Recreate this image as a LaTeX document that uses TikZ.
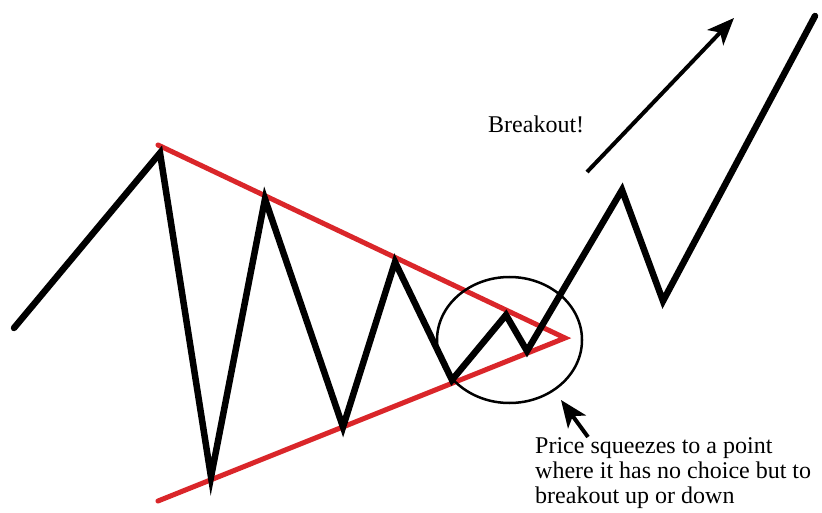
\documentclass[tikz,border=0pt]{standalone}
\usepackage{fontspec}
\setmainfont{Liberation Serif}
\usetikzlibrary{arrows.meta,shapes.geometric}
\definecolor{trendred}{RGB}{218,38,42}
\tikzset{
  price/.style={line width=6.5pt, black, line join=miter, line cap=round},
  trend/.style={line width=5pt, trendred, line cap=round},
  squeeze/.style={line width=2.5pt, black},
  pointer/.style={line width=4pt, black, -{Stealth[length=27pt,width=22pt,inset=7pt]}},
  label/.style={font=\fontsize{24}{25}\selectfont, inner sep=0pt, anchor=base west, align=left}
}
\begin{document}
\begin{tikzpicture}[x=1pt,y=-1pt]
\fill[white] (0,0) rectangle (822,513);
\useasboundingbox (0,0) rectangle (822,513);
% price points
\coordinate (s) at (14,328);
\coordinate (p1) at (160,153);
\coordinate (t1) at (211,477);
\coordinate (p2) at (265,199);
\coordinate (t2) at (343,427);
\coordinate (p3) at (395,262);
\coordinate (t3) at (452,380);
\coordinate (p4) at (506,315);
\coordinate (t4) at (527,351);
\coordinate (p5) at (622,190);
\coordinate (t5) at (663,301);
\coordinate (e) at (815,16);
% trend lines
\coordinate (ua) at (158,145);
\coordinate (la) at (158,501);
\coordinate (apex) at (565,338);
\draw[trend] (ua) -- (apex) -- (la);
\draw[price] (s) -- (p1) -- (t1) -- (p2) -- (t2) -- (p3) -- (t3) -- (p4) -- (t4) -- (p5) -- (t5) -- (e);
% circle
\node[squeeze, draw, ellipse, minimum width=145pt, minimum height=126pt, inner sep=0pt] (ring) at (509.5,340) {};
% breakout arrow
\coordinate (ba) at (587,172);
\coordinate (bb) at (734,18);
\draw[pointer] (ba) -- (bb);
\node[label] (bo) at (488,133) {Breakout!};
% squeeze arrow
\coordinate (sa) at (588,437);
\coordinate (sb) at (561,400);
\draw[pointer] (sa) -- (sb);
\node[label] (sq) at (535,503) {Price squeezes to a point\\where it has no choice but to\\breakout up or down};
\end{tikzpicture}
\end{document}
